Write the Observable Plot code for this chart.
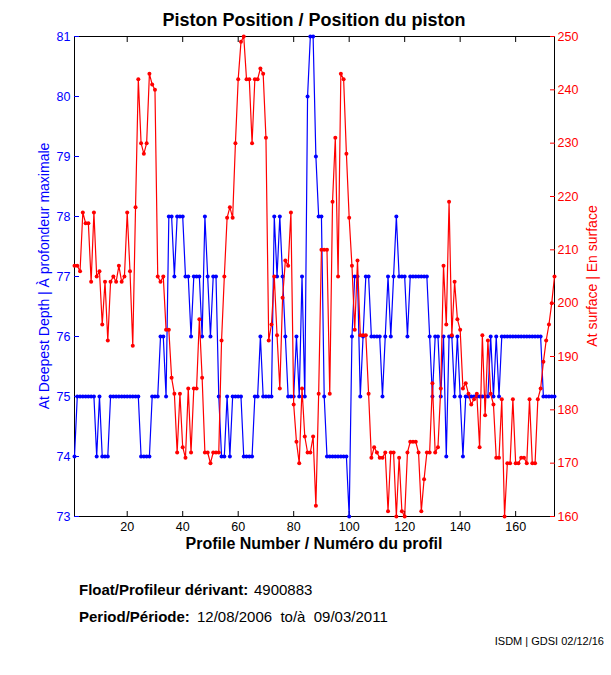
<!DOCTYPE html>
<html>
<head>
<meta charset="utf-8">
<script src="https://cdn.jsdelivr.net/npm/d3@7"></script>
<script src="https://cdn.jsdelivr.net/npm/@observablehq/plot@0.6"></script>
<style>
  html, body { margin: 0; padding: 0; background: #fff; }
  #wrap { position: relative; width: 611px; height: 675px; overflow: hidden;
          font-family: "Liberation Sans", Arial, Helvetica, sans-serif; color: #000; }
  #chart { position: absolute; left: 0; top: 0; }
  .t { position: absolute; white-space: pre; line-height: 1; }
  .b { font-weight: bold; }
  .rot { position: absolute; width: 320px; text-align: center; white-space: pre;
         transform: rotate(-90deg); transform-origin: 50% 50%; }
</style>
</head>
<body>
<div id="wrap">
  <div id="chart"></div>
  <div class="t b" style="left:74px;width:480px;text-align:center;top:11px;font-size:18px;">Piston Position / Position du piston</div>
  <div class="t b" style="left:74px;width:480px;text-align:center;top:536px;font-size:16px;">Profile Number / Numéro du profil</div>
  <div class="rot" style="left:-116.5px;top:269px;height:14px;line-height:14px;font-size:14px;color:#0000ff;">At Deepest Depth | À profondeur maximale</div>
  <div class="rot" style="left:432px;top:269px;height:14px;line-height:14px;font-size:14px;color:#ff0000;">At surface | En surface</div>
  <div class="t b" style="left:79px;top:582px;font-size:15px;">Float/Profileur dérivant:</div>
  <div class="t" style="left:254px;top:582px;font-size:15px;">4900883</div>
  <div class="t b" style="left:79px;top:609px;font-size:15px;">Period/Période:</div>
  <div class="t" style="left:197px;top:609px;font-size:15px;">12/08/2006  to/à  09/03/2011</div>
  <div class="t" style="right:7px;top:636px;font-size:11px;">ISDM | GDSI 02/12/16</div>
</div>
<script>
// ---- Data ----
const deepestDepth = [
  74,
  75,75,75,75,75,75,75,
  74,75,74,74,74,
  75,75,75,75,75,75,75,75,75,75,75,
  74,74,74,74,
  75,75,75,
  76,76,75,78,78,77,78,78,78,77,
  77,76,77,77,77,76,78,77,76,77,
  77,75,74,74,75,74,75,75,75,75,
  74,74,74,74,75,75,76,75,75,75,
  75,78,77,78,77,76,75,75,75,76,
  75,77,75,80,81,81,79,78,78,75,
  74,74,74,74,74,74,74,74,
  73,76,77,77,75,76,77,77,76,76,
  76,76,75,76,77,76,77,78,77,77,
  77,76,77,77,77,77,77,77,77,76,
  75,76,76,75,76,74,76,76,75,76,
  75,74,
  75,75,75,75,75,75,75,75,75,
  76,75,76,75,
  76,76,76,76,76,76,76,76,76,76,76,76,76,76,76,
  75,75,75,75,75
];
const atSurface = [
  207,207,206,217,215,215,204,217,205,206,
  196,204,193,204,205,204,207,204,205,217,
  206,192,218,242,230,228,230,243,241,240,
  205,204,205,195,195,186,183,172,183,173,
  171,184,172,184,184,197,186,172,172,170,
  172,172,172,193,205,216,218,216,230,242,
  249,250,242,242,230,242,242,244,243,231,
  193,196,205,194,184,201,208,207,217,181,
  174,170,184,175,172,172,175,162,183,210,
  210,210,183,219,231,205,243,242,228,216,
  207,195,208,194,194,194,183,171,173,172,
  171,171,172,161,172,172,160,171,161,160,
  172,174,174,174,172,161,167,172,172,185,
  172,173,184,207,196,219,194,204,197,195,
  184,185,183,181,182,183,173,194,179,193,
  183,181,171,171,182,160,170,170,182,170,
  170,171,171,170,182,170,170,182,184,189,
  193,196,200,205
];
const xTicks = [20, 40, 60, 80, 100, 120, 140, 160];
const leftTicks = [73, 74, 75, 76, 77, 78, 79, 80, 81];
const rightTicks = [160, 170, 180, 190, 200, 210, 220, 230, 240, 250];
const xDomain = [1, 174];
const leftDomain = [73, 81];
const rightDomain = [160, 250];

const BLUE = "#0000ff", RED = "#ff0000";

const blueData = deepestDepth.map((v, i) => ({profile: i + 1, value: v}));
const redData = atSurface.map((v, i) => ({profile: i + 1, value: v}));

// right axis values mapped onto the left (primary) y scale
const toLeft = d3.scaleLinear().domain(rightDomain).range(leftDomain);

const chart = Plot.plot({
  width: 611,
  height: 560,
  marginTop: 36,
  marginBottom: 44,
  marginLeft: 74,
  marginRight: 57,
  style: {fontFamily: '"Liberation Sans", Arial, Helvetica, sans-serif', fontSize: "12.5px", background: "white", overflow: "visible"},
  x: {domain: xDomain},
  y: {domain: leftDomain},
  marks: [
    Plot.frame({stroke: "black"}),
    Plot.axisX({anchor: "bottom", ticks: xTicks, tickSize: -5, tickPadding: 11, label: null, color: "black"}),
    Plot.axisX({anchor: "top", ticks: xTicks, tickSize: -5, fill: "none", label: null, stroke: "black"}),
    Plot.axisY({anchor: "left", ticks: leftTicks, tickSize: -5, tickPadding: 9, label: null, color: BLUE, line: true}),
    Plot.axisY({anchor: "right", ticks: rightTicks.map(v => toLeft(v)), tickFormat: v => String(Math.round(toLeft.invert(v))),
                tickSize: -5, tickPadding: 8, label: null, color: RED, line: true}),
    Plot.line(blueData, {x: "profile", y: "value", stroke: BLUE, strokeWidth: 1.2}),
    Plot.dot(blueData, {x: "profile", y: "value", r: 2, fill: BLUE, stroke: null}),
    Plot.line(redData, {x: "profile", y: d => toLeft(d.value), stroke: RED, strokeWidth: 1.2}),
    Plot.dot(redData, {x: "profile", y: d => toLeft(d.value), r: 2, fill: RED, stroke: null})
  ]
});
document.getElementById("chart").appendChild(chart);
</script>
</body>
</html>
